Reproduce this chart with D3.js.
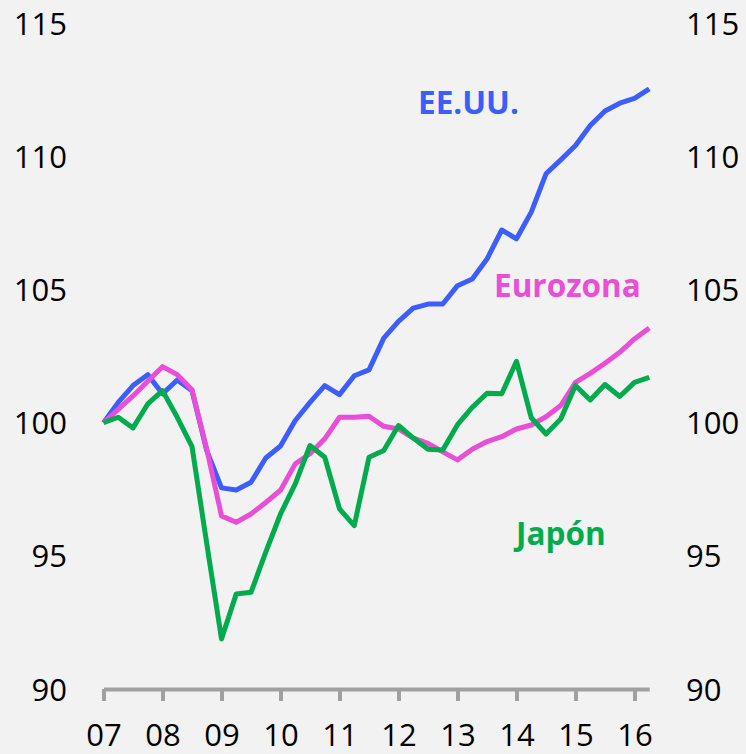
<!DOCTYPE html>
<html>
<head>
<meta charset="utf-8">
<script src="https://cdn.jsdelivr.net/npm/d3@7"></script>
<style>
  html, body { margin: 0; padding: 0; background: #f2f2f2; }
  svg { display: block; }
  text { font-family: 'Open Sans', sans-serif; }
</style>
</head>
<body>
<svg id="chart" width="746" height="754"></svg>
<script>
// quarterly index, 2007 Q1 = 100
const years = [2007, 2008, 2009, 2010, 2011, 2012, 2013, 2014, 2015, 2016];
const yTicks = [90, 95, 100, 105, 110, 115];

const eeuu = [
  100, 100.76, 101.39, 101.8, 101.08, 101.6, 101.2, 98.95, 97.55, 97.47,
  97.76, 98.67, 99.12, 100.08, 100.76, 101.39, 101.05, 101.76, 101.98, 103.17,
  103.8, 104.3, 104.45, 104.45, 105.14, 105.39, 106.14, 107.23, 106.9, 107.9,
  109.34, 109.86, 110.4, 111.15, 111.7, 111.99, 112.17, 112.53
];
const eurozona = [
  100, 100.5, 101.0, 101.55, 102.1, 101.8, 101.23, 99.0, 96.5, 96.26,
  96.57, 97.0, 97.46, 98.45, 98.83, 99.39, 100.2, 100.2, 100.24, 99.86,
  99.76, 99.42, 99.22, 98.9, 98.6, 99.0, 99.29, 99.47, 99.76, 99.91,
  100.22, 100.64, 101.51, 101.85, 102.23, 102.64, 103.14, 103.55
];
const japon = [
  100, 100.2, 99.8, 100.7, 101.2, 100.2, 99.1, 95.46, 91.88, 93.57,
  93.63, 95.14, 96.57, 97.7, 99.14, 98.7, 96.76, 96.13, 98.7, 98.95,
  99.89, 99.42, 99.0, 98.97, 99.92, 100.57, 101.1, 101.08, 102.3, 100.18,
  99.57, 100.14, 101.39, 100.85, 101.43, 100.98, 101.51, 101.7
];

const series = [
  { name: 'EE.UU.', values: eeuu, color: '#3d5eff', lx: 418, ly: 114 },
  { name: 'Eurozona', values: eurozona, color: '#e84fd6', lx: 494, ly: 297 },
  { name: 'Japón', values: japon, color: '#00ab4e', lx: 516, ly: 545 }
];

const svg = d3.select('#chart');

const x = d3.scaleLinear().domain([2007, 2016.25]).range([103.5, 649.25]);
const y = d3.scaleLinear().domain([90, 115]).range([689, 23]);

// x axis
const xAxis = svg.append('g')
  .attr('transform', 'translate(0,' + y(90) + ')')
  .call(d3.axisBottom(x)
    .tickValues(years)
    .tickSize(12)
    .tickSizeOuter(0)
    .tickFormat(d => String(d % 100).padStart(2, '0')));

xAxis.select('.domain').attr('stroke', '#a0a0a0').attr('stroke-width', 4);
xAxis.selectAll('.tick line').attr('stroke', '#a0a0a0').attr('stroke-width', 4);
xAxis.selectAll('.tick text')
  .attr('y', 57)
  .attr('dy', null)
  .attr('fill', '#000')
  .attr('font-size', 31)
  .attr('font-family', "'Open Sans', sans-serif");

// y labels, left and right
svg.append('g').selectAll('text')
  .data(yTicks)
  .join('text')
  .attr('x', 67)
  .attr('y', d => y(d) + 11.5)
  .attr('text-anchor', 'end')
  .attr('font-size', 31)
  .text(d => d);

svg.append('g').selectAll('text')
  .data(yTicks)
  .join('text')
  .attr('x', 686)
  .attr('y', d => y(d) + 11.5)
  .attr('font-size', 31)
  .text(d => d);

// lines
const line = d3.line()
  .x((d, i) => x(2007 + i / 4))
  .y(d => y(d));

svg.append('g').selectAll('path')
  .data(series)
  .join('path')
  .attr('d', d => line(d.values))
  .attr('fill', 'none')
  .attr('stroke', d => d.color)
  .attr('stroke-width', 5)
  .attr('stroke-linejoin', 'round');

svg.append('g').selectAll('text')
  .data(series)
  .join('text')
  .attr('x', d => d.lx)
  .attr('y', d => d.ly)
  .attr('fill', d => d.color)
  .attr('font-size', 31.5)
  .attr('font-weight', 'bold')
  .text(d => d.name);
</script>
</body>
</html>
